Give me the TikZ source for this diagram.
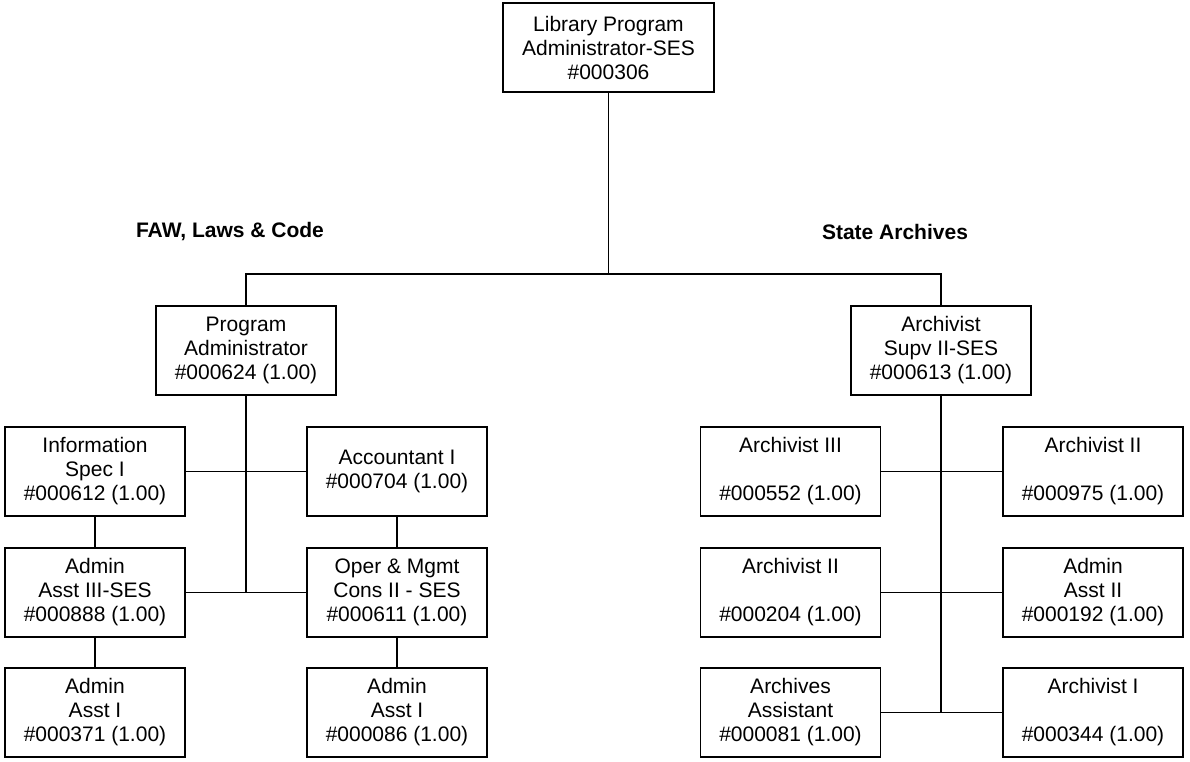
\documentclass[tikz,border=0pt]{standalone}
\usepackage{fontspec}
\setmainfont{Liberation Sans}
\begin{document}
\begin{tikzpicture}[x=1pt,y=-1pt,
  every node/.style={font=\fontsize{21}{24}\selectfont},
  posbox/.style={draw=black,line width=1.7pt,fill=white,align=center,
    minimum width=180pt,minimum height=89pt,inner sep=0pt},
  topbox/.style={posbox,minimum width=211pt},
  link/.style={draw=black,line width=1.7pt},
  section/.style={font=\fontsize{21}{24}\selectfont\bfseries,anchor=center}]
\useasboundingbox (0,0) rectangle (1190,761);

% director
\node[topbox] (lib) at (608.5,47.5) {Library Program\\Administrator-SES\\\#000306};

% section heads
\node[posbox] (pa) at (246,350.5) {Program\\Administrator\\\#000624 (1.00)};
\node[posbox] (as) at (941,350.5) {Archivist\\Supv II-SES\\\#000613 (1.00)};

\node[section] (faw) at (230,232) {FAW, Laws \& Code};
\node[section] (sa) at (895,232) {State Archives};

% FAW, Laws & Code staff
\node[posbox] (info) at (95,471.5) {Information\\Spec I\\\#000612 (1.00)};
\node[posbox] (acct) at (397,471.5) {Accountant I\\\#000704 (1.00)};
\node[posbox] (aa3) at (95,592.5) {Admin\\Asst III-SES\\\#000888 (1.00)};
\node[posbox] (omc) at (397,592.5) {Oper \& Mgmt\\Cons II - SES\\\#000611 (1.00)};
\node[posbox] (aa1a) at (95,712.5) {Admin\\Asst I\\\#000371 (1.00)};
\node[posbox] (aa1b) at (397,712.5) {Admin\\Asst I\\\#000086 (1.00)};

% State Archives staff
\node[posbox] (arc3) at (790.5,471.5) {Archivist III\\\mbox{}\\\#000552 (1.00)};
\node[posbox] (arc2a) at (1093,471.5) {Archivist II\\\mbox{}\\\#000975 (1.00)};
\node[posbox] (arc2b) at (790.5,592.5) {Archivist II\\\mbox{}\\\#000204 (1.00)};
\node[posbox] (aa2) at (1093,592.5) {Admin\\Asst II\\\#000192 (1.00)};
\node[posbox] (arca) at (790.5,712.5) {Archives\\Assistant\\\#000081 (1.00)};
\node[posbox] (arc1) at (1093,712.5) {Archivist I\\\mbox{}\\\#000344 (1.00)};

% top level bus
\coordinate (bus) at (608.5,274);
\draw[link] (lib.south) -- (bus);
\draw[link] (pa.north) |- (bus) -| (as.north);

% FAW, Laws & Code links
\draw[link] (pa.south) -- (pa.south |- aa3.east);
\draw[link] (info.east) -- (acct.west);
\draw[link] (aa3.east) -- (omc.west);
\draw[link] (info) -- (aa3);
\draw[link] (aa3) -- (aa1a);
\draw[link] (acct) -- (omc);
\draw[link] (omc) -- (aa1b);

% State Archives links
\draw[link] (as.south) -- (as.south |- arca.east);
\draw[link] (arc3.east) -- (arc2a.west);
\draw[link] (arc2b.east) -- (aa2.west);
\draw[link] (arca.east) -- (arc1.west);
\end{tikzpicture}
\end{document}
